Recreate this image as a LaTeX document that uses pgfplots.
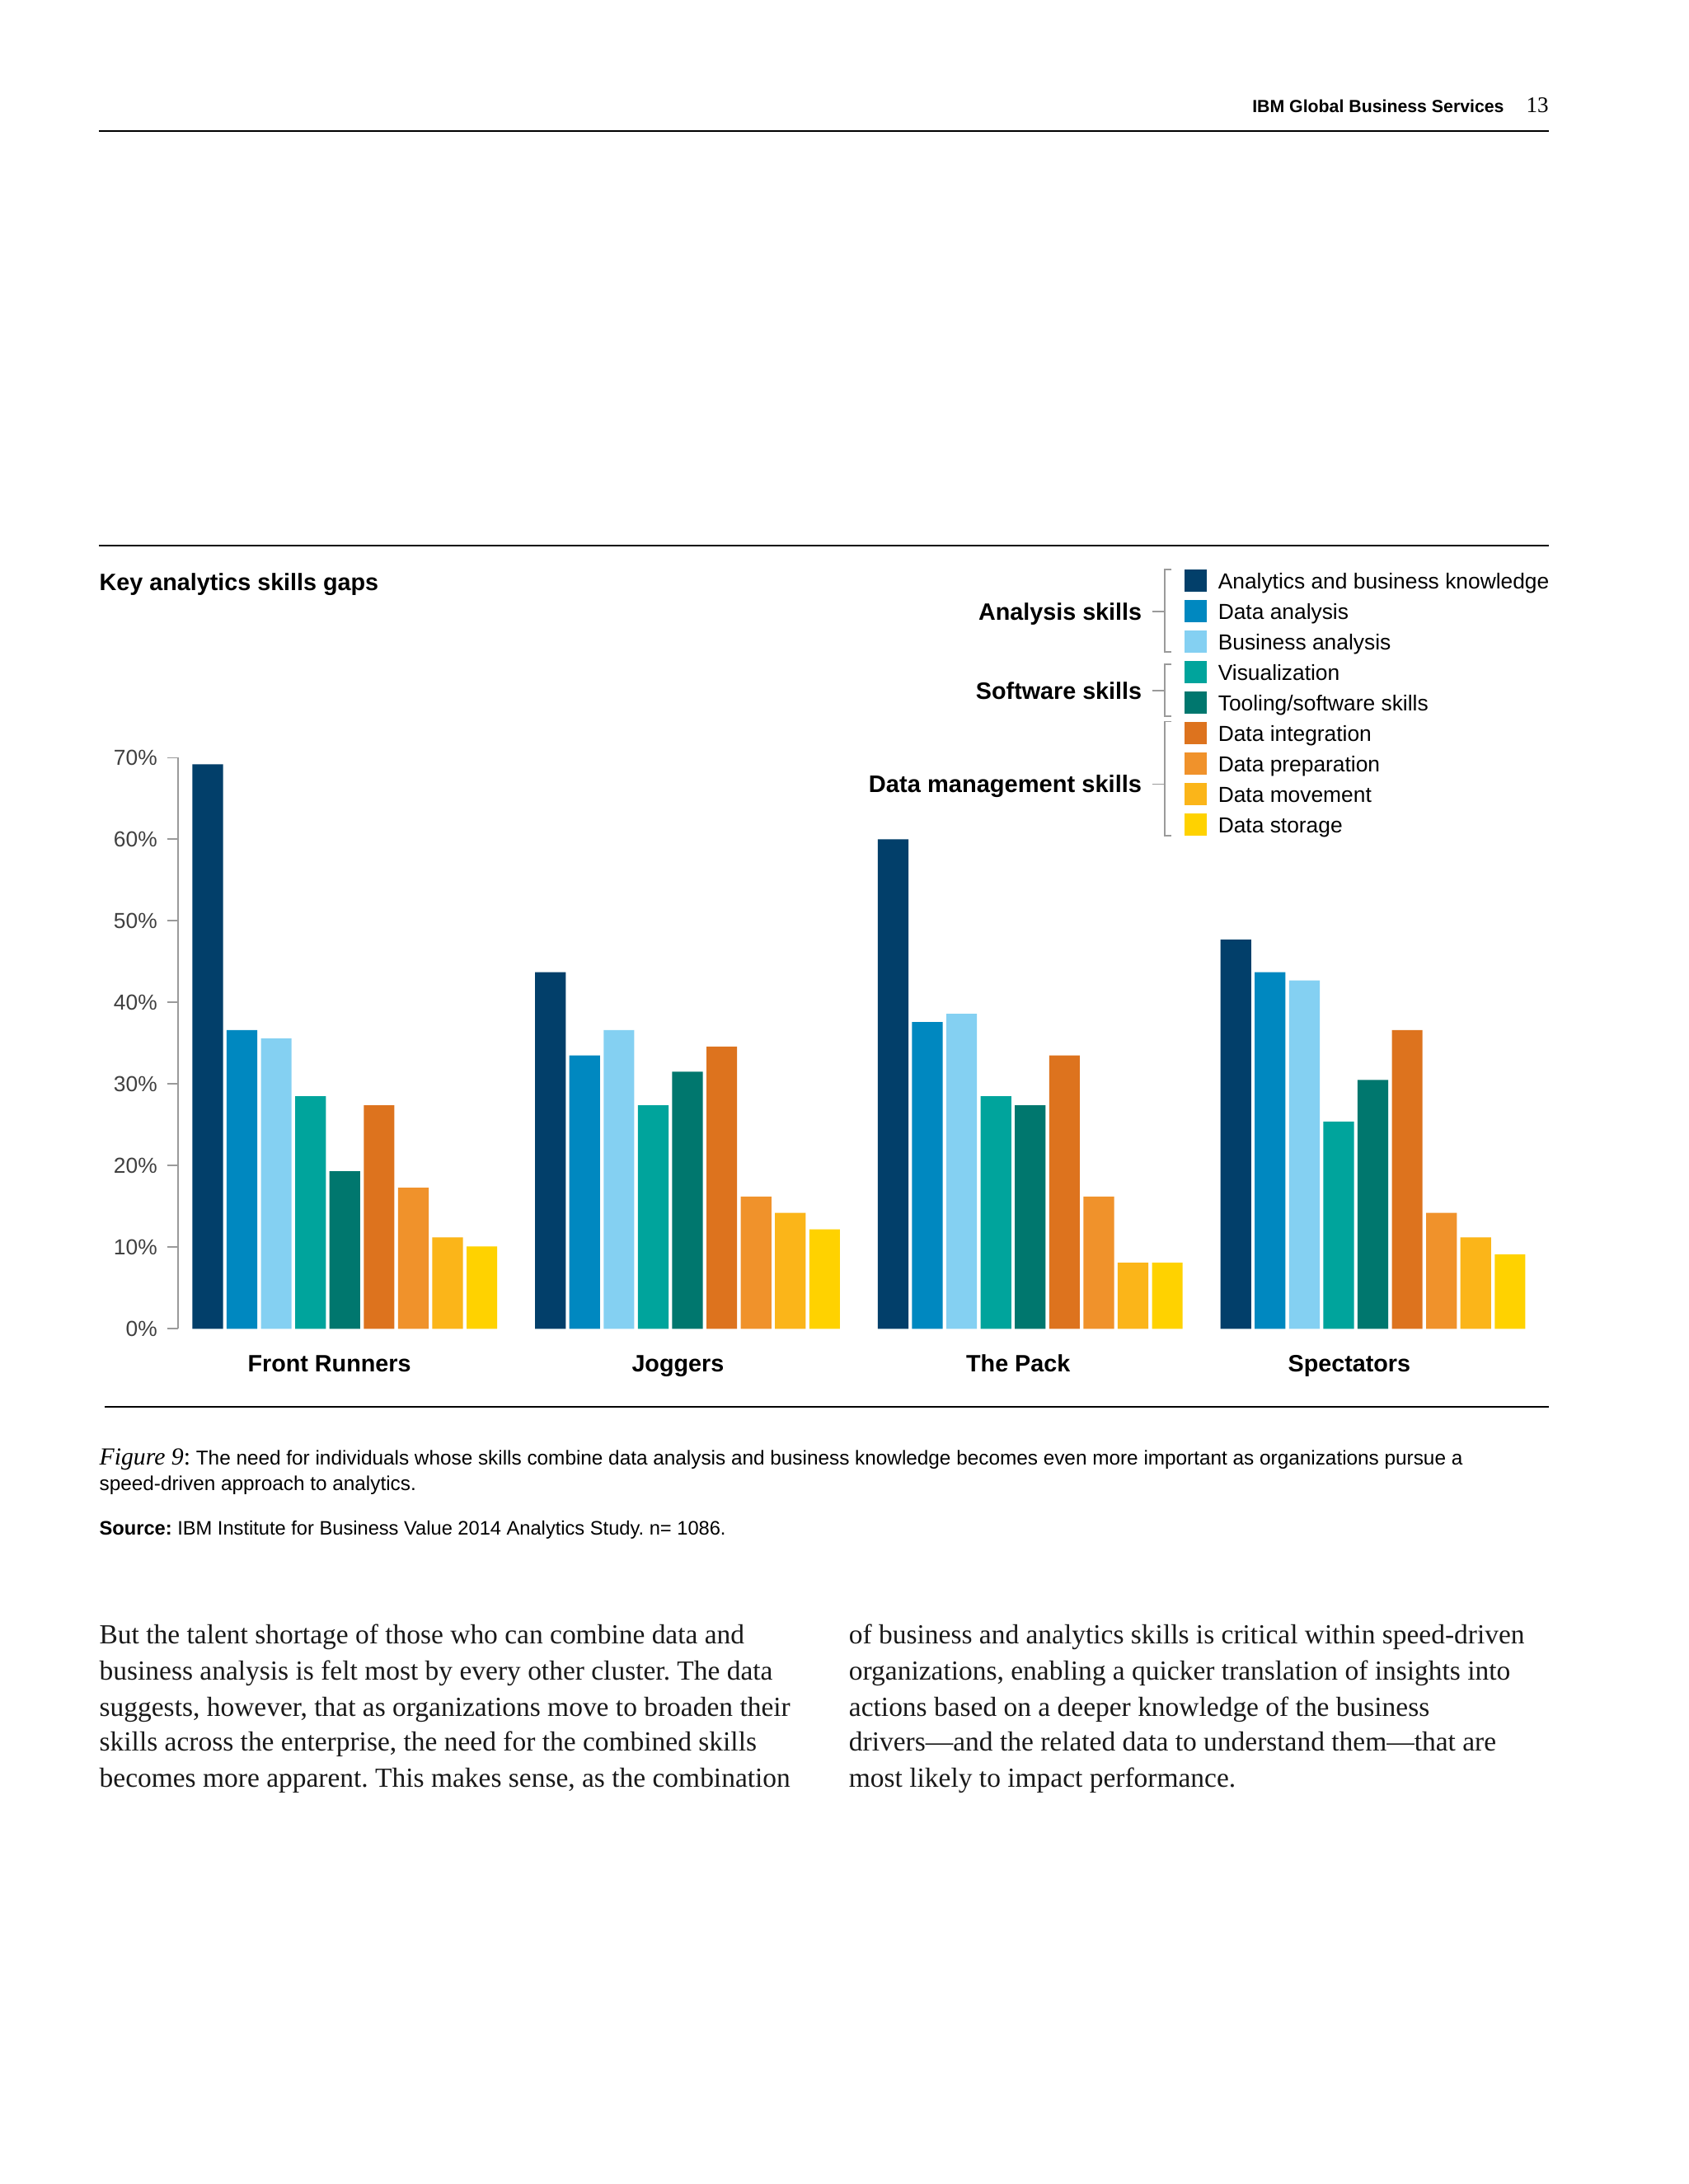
\documentclass[border=0pt]{standalone}
\usepackage{pgfplots}
\pgfplotsset{compat=1.18}
\usepackage{pgfplotstable}
\usepackage{fontspec}
\setmainfont{Liberation Sans}
\newfontfamily\serif{Liberation Serif}
\newcommand\fs[1]{\fontsize{#1}{#1}\selectfont}
\frenchspacing

\definecolor{cA}{HTML}{023F6A}
\definecolor{cB}{HTML}{0088C0}
\definecolor{cC}{HTML}{84D0F2}
\definecolor{cD}{HTML}{00A49C}
\definecolor{cE}{HTML}{00776E}
\definecolor{cF}{HTML}{DD731E}
\definecolor{cG}{HTML}{F0922B}
\definecolor{cH}{HTML}{FBB519}
\definecolor{cI}{HTML}{FFD200}
\definecolor{rulegray}{HTML}{9A9A9A}

% share of respondents citing each skills gap, per cluster
\pgfplotstableread{
x  ab   da   ba   vi   to   di   dp   dm   ds
0  69.2 36.6 35.6 28.5 19.3 27.4 17.3 11.2 10.1
1  43.7 33.5 36.6 27.4 31.5 34.6 16.2 14.2 12.2
2  60.0 37.6 38.6 28.5 27.4 33.5 16.2 8.1  8.1
3  47.7 43.7 42.7 25.4 30.5 36.6 14.2 11.2 9.1
}\skills

\begin{document}
\begin{tikzpicture}
\fill[white] (0,0) rectangle (606pt,784pt);
\path[use as bounding box] (0,0) rectangle (606pt,784pt);

\begin{axis}[
  at={(123.75pt,307pt)}, anchor=origin,
  x=123pt, y=2.9286pt,
  xmin=-0.486, xmax=3.5, ymin=0, ymax=70,
  enlargelimits=false, clip=false,
  ybar=1.3pt, bar width=11pt,
  axis lines*=left,
  x axis line style={draw=none},
  y axis line style={draw=rulegray, line width=0.5pt},
  % labels sit a little left of the group centres, as in the original
  xtick={-0.045,0.972,1.965,2.931},
  xticklabels={Front Runners, Joggers, The Pack, Spectators},
  xtick style={draw=none},
  xticklabel style={font=\bfseries\fs{8.5}, text height=6.3pt, text depth=1.8pt, anchor=north, yshift=-1.5pt},
  ytick={0,10,...,70},
  yticklabel={\pgfmathprintnumber{\tick}\%},
  /pgf/number format/assume math mode=true,
  yticklabel style={font=\fs{7.8}, text=black!75},
  tick align=outside,
  major tick length=4pt,
  ytick style={draw=rulegray, line width=0.5pt},
]
\addplot[fill=cA, draw=none] table[x=x, y=ab] {\skills};
\addplot[fill=cB, draw=none] table[x=x, y=da] {\skills};
\addplot[fill=cC, draw=none] table[x=x, y=ba] {\skills};
\addplot[fill=cD, draw=none] table[x=x, y=vi] {\skills};
\addplot[fill=cE, draw=none] table[x=x, y=to] {\skills};
\addplot[fill=cF, draw=none] table[x=x, y=di] {\skills};
\addplot[fill=cG, draw=none] table[x=x, y=dp] {\skills};
\addplot[fill=cH, draw=none] table[x=x, y=dm] {\skills};
\addplot[fill=cI, draw=none] table[x=x, y=ds] {\skills};
\end{axis}

\begin{scope}[x=0.5pt, y=-0.5pt, shift={(0,784pt)}]
  % page header
  \node[anchor=base east, inner sep=0, font=\bfseries\fs{6.3}] at (1080,81) {IBM Global Business Services};
  \node[anchor=base east, inner sep=0, font=\serif\fs{8}] at (1112,81) {13};
  \draw[line width=0.6pt] (71,94) -- (1112,94);

  % chart frame
  \draw[line width=0.6pt] (71,392) -- (1112,392);
  \draw[line width=0.6pt] (75,1010) -- (1112,1010);
  \node[anchor=base west, inner sep=0, font=\bfseries\fs{8.5}] at (71,424) {Key analytics skills gaps};

  % legend with skill groups
  \foreach \c/\t [count=\i from 0] in {cA/Analytics and business knowledge, cB/Data analysis, cC/Business analysis, cD/Visualization, cE/Tooling\slash software skills, cF/Data integration, cG/Data preparation, cH/Data movement, cI/Data storage}{
    \pgfmathsetmacro\yy{417+\i*21.9}
    \fill[\c] (850,\yy-8) rectangle (866,\yy+8);
    \node[anchor=base west, inner sep=0, font=\fs{7.8}] at (874,\yy+5.6) {\t};
  }
  \draw[rulegray, line width=0.5pt] (841,409) -- (836,409) -- (836,468) -- (841,468);
  \draw[rulegray, line width=0.5pt] (827,439) -- (836,439);
  \draw[rulegray, line width=0.5pt] (841,477) -- (836,477) -- (836,514) -- (841,514);
  \draw[rulegray, line width=0.5pt] (827,496) -- (836,496);
  \draw[rulegray, line width=0.5pt] (841,518) -- (836,518) -- (836,600) -- (841,600);
  \draw[rulegray, line width=0.5pt] (827,563) -- (836,563);
  \node[anchor=base east, inner sep=0, font=\bfseries\fs{8.5}] at (820,445) {Analysis skills};
  \node[anchor=base east, inner sep=0, font=\bfseries\fs{8.5}] at (820,502) {Software skills};
  \node[anchor=base east, inner sep=0, font=\bfseries\fs{8.6}] at (820,569) {Data management skills};

  % caption and source
  \node[anchor=base west, inner sep=0, font=\fs{7.2}] at (71,1052) {{\serif\itshape\fs{8.8}Figure 9}{\serif\fs{8.8}:} The need for individuals whose skills combine data analysis and business knowledge becomes even more important as organizations pursue a};
  \node[anchor=base west, inner sep=0, font=\fs{7.2}] at (71,1070) {speed-driven approach to analytics.};
  \node[anchor=base west, inner sep=0, font=\fs{7.0}] at (71,1102) {\textbf{Source:} IBM Institute for Business Value 2014 Analytics Study. n= 1086.};

  % body text, two columns
  \begin{scope}[every node/.style={anchor=base west, inner sep=0, font=\serif\fs{9.9}, text=black!90}]
    \node at (71,1180) {But the talent shortage of those who can combine data and};
    \node at (71,1206) {business analysis is felt most by every other cluster. The data};
    \node at (71,1232) {suggests, however, that as organizations move to broaden their};
    \node at (71,1257) {skills across the enterprise, the need for the combined skills};
    \node at (71,1283) {becomes more apparent. This makes sense, as the combination};
    \node at (609,1180) {of business and analytics skills is critical within speed-driven};
    \node at (609,1206) {organizations, enabling a quicker translation of insights into};
    \node at (609,1232) {actions based on a deeper knowledge of the business};
    \node at (609,1257) {drivers—and the related data to understand them—that are};
    \node at (609,1283) {most likely to impact performance.};
  \end{scope}
\end{scope}
\end{tikzpicture}
\end{document}
